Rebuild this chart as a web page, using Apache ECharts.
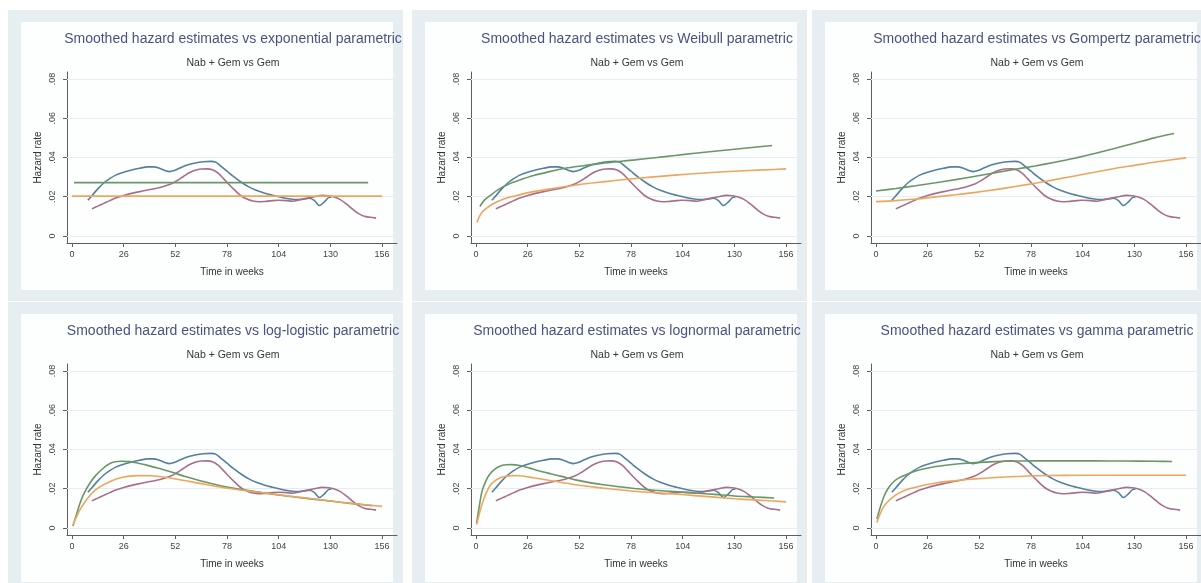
<!DOCTYPE html>
<html>
<head>
<meta charset="utf-8">
<script src="https://cdn.jsdelivr.net/npm/echarts@6/dist/echarts.min.js"></script>
<style>
html, body { margin: 0; padding: 0; background: #ffffff; }
#chart { width: 1201px; height: 583px; }
</style>
</head>
<body>
<div id="chart"></div>
<script>
// Axis ticks and labels
const weekTicks = [0, 26, 52, 78, 104, 130, 156];
const hazardTicks = [0, 0.02, 0.04, 0.06, 0.08];
const hazardTickLabels = ['0', '.02', '.04', '.06', '.08'];

// Panel text
const modelNames = ['exponential', 'Weibull', 'Gompertz', 'log-logistic', 'lognormal', 'gamma'];
const subtitleText = 'Nab + Gem vs Gem';
const xTitle = 'Time in weeks';
const yTitle = 'Hazard rate';

// Kernel-smoothed hazard estimates [week, hazard]
const smoothNabGem = [[8,0.0182],[10,0.0205],[13,0.0240],[16,0.0270],[19,0.0292],[22,0.0310],[26,0.0325],[30,0.0336],[34,0.0345],[38,0.0352],[41,0.0352],[44,0.0345],[47,0.0333],[49,0.0328],[51,0.0332],[54,0.0345],[58,0.0362],[62,0.0372],[66,0.0378],[70,0.0380],[72.5,0.0375],[75,0.0355],[78,0.0330],[81,0.0305],[85,0.0275],[89,0.0250],[93,0.0232],[97,0.0218],[101,0.0207],[105,0.0197],[109,0.0190],[113,0.0185],[117,0.0189],[119.5,0.0192],[122,0.0180],[124.5,0.0155],[127,0.0174],[129.5,0.0197],[130.5,0.0197]];
const smoothGem = [[10,0.0138],[13,0.0152],[16,0.0166],[19,0.0180],[22,0.0193],[26,0.0206],[30,0.0217],[34,0.0226],[38,0.0234],[42,0.0242],[46,0.0252],[50,0.0266],[53,0.0283],[56,0.0303],[59,0.0322],[62,0.0335],[65,0.0341],[68,0.0342],[71,0.0336],[73.5,0.0320],[76,0.0295],[79,0.0262],[82,0.0232],[85,0.0205],[88,0.0188],[91,0.0178],[94,0.0174],[97,0.0176],[100,0.0179],[104,0.0182],[108,0.0180],[111,0.0177],[114,0.0183],[118,0.0192],[122,0.0200],[126,0.0207],[129,0.0205],[132,0.0198],[135,0.0185],[138,0.0163],[141,0.0138],[144,0.0115],[147,0.0100],[150,0.0095],[153,0.0091]];

// Parametric hazards, Nab + Gem arm
const expNabGem = [[1,0.0272],[149,0.0272]];
const weibullNabGem = [[2,0.0150],[4,0.0180],[7,0.0205],[11,0.0235],[16,0.0262],[22,0.0285],[29,0.0308],[37,0.0328],[45,0.0345],[54,0.0358],[63,0.0370],[72,0.0380],[80,0.0388],[90,0.0399],[100,0.0410],[110,0.0422],[120,0.0432],[130,0.0442],[140,0.0452],[149,0.0461]];
const gompertzNabGem = [[0,0.0229],[10,0.0242],[20,0.0256],[30,0.0271],[40,0.0287],[50,0.0304],[60,0.0322],[70,0.0340],[80,0.0357],[90,0.0376],[100,0.0396],[110,0.0420],[120,0.0446],[130,0.0473],[140,0.0500],[150,0.0522]];
const loglogNabGem = [[0.5,0.0010],[2,0.0060],[4,0.0125],[6,0.0175],[9,0.0228],[12,0.0268],[15,0.0298],[18,0.0322],[21,0.0336],[25,0.0340],[29,0.0338],[33,0.0331],[38,0.0319],[44,0.0303],[50,0.0285],[57,0.0262],[64,0.0242],[71,0.0224],[78,0.0208],[86,0.0194],[95,0.0181],[105,0.0167],[115,0.0154],[125,0.0143],[135,0.0131],[145,0.0120],[151,0.0114]];
const lognormNabGem = [[0.3,0.0025],[1.5,0.0100],[3,0.0185],[5,0.0240],[7,0.0275],[9.5,0.0300],[12,0.0315],[15,0.0322],[18,0.0323],[22,0.0318],[27,0.0305],[32,0.0290],[38,0.0275],[43,0.0263],[50,0.0245],[57,0.0231],[64,0.0220],[72,0.0210],[80,0.0201],[90,0.0192],[100,0.0185],[110,0.0178],[120,0.0171],[130,0.0163],[140,0.0158],[150,0.0153]];
const gammaNabGem = [[0.5,0.0045],[2,0.0100],[4,0.0160],[6,0.0200],[9,0.0237],[12,0.0258],[16,0.0275],[20,0.0290],[25,0.0303],[30,0.0313],[35,0.0320],[42,0.0327],[50,0.0333],[60,0.0338],[70,0.0341],[80,0.0342],[95,0.0342],[110,0.0342],[125,0.0341],[140,0.0340],[149,0.0339]];

// Parametric hazards, Gem arm
const expGem = [[0,0.0203],[156,0.0203]];
const weibullGem = [[0.5,0.0068],[2,0.0105],[4,0.0130],[8,0.0160],[14,0.0188],[20,0.0205],[27,0.0222],[35,0.0236],[45,0.0252],[55,0.0266],[65,0.0277],[75,0.0288],[88,0.0300],[100,0.0310],[115,0.0321],[130,0.0330],[145,0.0337],[156,0.0342]];
const gompertzGem = [[0,0.0175],[10,0.0180],[20,0.0188],[30,0.0199],[40,0.0210],[50,0.0222],[60,0.0236],[70,0.0252],[80,0.0269],[90,0.0287],[100,0.0306],[110,0.0325],[120,0.0344],[130,0.0360],[140,0.0376],[156,0.0398]];
const loglogGem = [[0.5,0.0015],[2,0.0050],[4,0.0092],[6,0.0125],[9,0.0165],[12,0.0195],[15,0.0216],[19,0.0236],[23,0.0252],[28,0.0263],[34,0.0267],[40,0.0266],[46,0.0260],[52,0.0250],[58,0.0239],[65,0.0226],[72,0.0213],[80,0.0200],[90,0.0187],[100,0.0174],[110,0.0162],[120,0.0150],[130,0.0137],[140,0.0126],[150,0.0116],[156,0.0110]];
const lognormGem = [[0.3,0.0017],[1.5,0.0065],[3,0.0120],[5,0.0175],[7,0.0215],[9.5,0.0240],[12,0.0255],[15,0.0264],[18,0.0267],[22,0.0266],[27,0.0259],[32,0.0251],[38,0.0241],[43,0.0232],[50,0.0220],[57,0.0211],[64,0.0203],[72,0.0195],[80,0.0187],[90,0.0180],[100,0.0173],[110,0.0165],[120,0.0157],[130,0.0149],[140,0.0143],[150,0.0137],[156,0.0133]];
const gammaGem = [[0.5,0.0028],[2,0.0070],[4,0.0110],[6,0.0135],[9,0.0161],[12,0.0180],[16,0.0197],[20,0.0208],[25,0.0220],[30,0.0229],[35,0.0236],[42,0.0243],[50,0.0250],[60,0.0257],[70,0.0262],[80,0.0266],[95,0.0268],[110,0.0269],[125,0.0269],[140,0.0269],[156,0.0269]];

const paramNabGem = [expNabGem, weibullNabGem, gompertzNabGem, loglogNabGem, lognormNabGem, gammaNabGem];
const paramGem = [expGem, weibullGem, gompertzGem, loglogGem, lognormGem, gammaGem];

// Layout and styling
const FONT = '"Liberation Sans", Arial, sans-serif';
const colOffsets = [0, 404, 804];
const rowOffsets = [0, 292];
const COLORS = { smoothNabGem: '#55809d', smoothGem: '#a86f8c', paramNabGem: '#6b9766', paramGem: '#eda65f' };
const AXIS_COLOR = '#5e5e5e';

const chart = echarts.init(document.getElementById('chart'), null, { renderer: 'canvas' });

const grids = [], xAxes = [], yAxes = [], series = [], titles = [], graphics = [];

modelNames.forEach((model, i) => {
  const ox = colOffsets[i % 3];
  const oy = rowOffsets[Math.floor(i / 3)];

  // panel frame and inner area
  graphics.push({ type: 'rect', z: -20, silent: true, shape: { x: 8 + ox, y: 10 + oy, width: 395, height: 291 }, style: { fill: '#e7eef2' } });
  graphics.push({ type: 'rect', z: -19, silent: true, shape: { x: 21 + ox, y: 22 + oy, width: 372, height: 268 }, style: { fill: '#fdfefe' } });

  titles.push({
    text: 'Smoothed hazard estimates vs ' + model + ' parametric',
    left: 233 + ox, top: 31.5 + oy, textAlign: 'center', padding: 0,
    textStyle: { fontFamily: FONT, fontSize: 14, lineHeight: 16, fontWeight: 'normal', color: '#4a5380' }
  });
  titles.push({
    text: subtitleText,
    left: 233 + ox, top: 57.5 + oy, textAlign: 'center', padding: 0,
    textStyle: { fontFamily: FONT, fontSize: 10.5, lineHeight: 12, fontWeight: 'normal', color: '#353535' }
  });

  grids.push({ left: 67 + ox, top: 72 + oy, width: 330, height: 171, containLabel: false });

  xAxes.push({
    type: 'value', gridIndex: i, min: -2.5, max: 163.5,
    name: xTitle, nameLocation: 'middle', nameGap: 24,
    nameTextStyle: { fontFamily: FONT, fontSize: 10, color: '#333' },
    axisLine: { onZero: false, lineStyle: { color: AXIS_COLOR, width: 1 } },
    axisTick: { show: true, length: 4, customValues: weekTicks, lineStyle: { color: AXIS_COLOR } },
    axisLabel: { customValues: weekTicks, margin: 7, fontFamily: FONT, fontSize: 9, color: '#444' },
    splitLine: { show: false }
  });

  yAxes.push({
    type: 'value', gridIndex: i, min: -0.0036, max: 0.0836,
    name: yTitle, nameLocation: 'middle', nameGap: 24, nameRotate: 90,
    nameTextStyle: { fontFamily: FONT, fontSize: 10, color: '#333' },
    axisLine: { show: true, onZero: false, lineStyle: { color: AXIS_COLOR, width: 1 } },
    axisTick: { show: true, length: 4, customValues: hazardTicks, lineStyle: { color: AXIS_COLOR } },
    axisLabel: {
      customValues: hazardTicks, rotate: 90, margin: 10, fontFamily: FONT, fontSize: 9, color: '#444',
      formatter: (v) => {
        let best = 0;
        hazardTicks.forEach((t, k) => { if (Math.abs(t - v) < Math.abs(hazardTicks[best] - v)) best = k; });
        return hazardTickLabels[best];
      }
    },
    splitLine: { show: false }
  });

  // horizontal grid lines at the hazard ticks, kept beneath the curves
  series.push({
    type: 'line', name: 'grid', data: [], xAxisIndex: i, yAxisIndex: i, silent: true, animation: false, z: 1,
    markLine: {
      silent: true, symbol: 'none', animation: false, z: 1, label: { show: false },
      lineStyle: { color: '#e6ecef', width: 1, type: 'solid' },
      data: hazardTicks.map(t => ({ yAxis: t }))
    }
  });

  const lineSeries = (name, data, color, z) => ({
    type: 'line', name, data, xAxisIndex: i, yAxisIndex: i, z,
    symbol: 'none', showSymbol: false, smooth: 0.3, silent: true, animation: false,
    lineStyle: { color, width: 1.6 }
  });

  series.push(lineSeries('Smoothed Nab + Gem', smoothNabGem, COLORS.smoothNabGem, 3));
  series.push(lineSeries('Smoothed Gem', smoothGem, COLORS.smoothGem, 3));
  series.push(lineSeries(model + ' Nab + Gem', paramNabGem[i], COLORS.paramNabGem, 4));
  series.push(lineSeries(model + ' Gem', paramGem[i], COLORS.paramGem, 4));
});

chart.setOption({
  backgroundColor: '#ffffff',
  animation: false,
  title: titles,
  grid: grids,
  xAxis: xAxes,
  yAxis: yAxes,
  series: series,
  graphic: { elements: graphics }
});
</script>
</body>
</html>
